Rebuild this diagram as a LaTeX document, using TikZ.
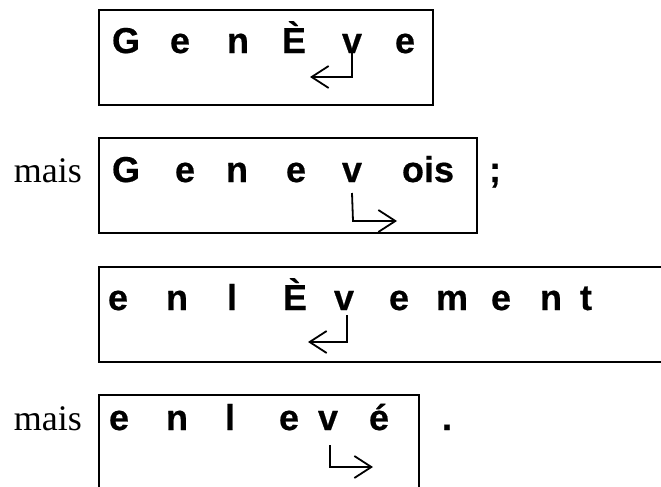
\documentclass[tikz,border=0pt]{standalone}
\usepackage{fontspec}
\setmainfont{Liberation Serif}
\newfontfamily\arialfont[FakeBold=0.5]{Liberation Sans Bold}
\usetikzlibrary{arrows.meta}
\tikzset{
  box/.style={draw, line width=2.4pt},
  ltr/.style={anchor=base, inner sep=0pt, font=\arialfont\fontsize{36}{40}\selectfont},
  txt/.style={anchor=base east, inner sep=0pt, font=\fontsize{36}{40}\selectfont},
  elbow/.style={line width=1.8pt, -{Straight Barb[length=17pt,width=22pt,line width=1.8pt]}}
}
\begin{document}
\begin{tikzpicture}[x=1pt,y=-1pt]
\useasboundingbox (0,0) rectangle (661,487);
\clip (0,0) rectangle (661,487);
% box 1
\draw[box] (99,10) rectangle (433,105);
\node[ltr] (a1) at (126,53) {G};
\node[ltr] (a2) at (180,53) {e};
\node[ltr] (a3) at (238,53) {n};
\node[ltr] (a4) at (294,53) {È};
\node[ltr] (a5) at (352,53) {v};
\node[ltr] (a6) at (405,53) {e};
\coordinate (c1) at (352,77);
\coordinate (d1) at (310,77);
\draw[elbow] (a5.base) -- (c1) -- (d1);
% box 2
\node[txt] (m1) at (82,182) {mais};
\draw[box] (99,138) rectangle (477,233);
\node[ltr] (b1) at (126,182) {G};
\node[ltr] (b2) at (185,182) {e};
\node[ltr] (b3) at (237,182) {n};
\node[ltr] (b4) at (296,182) {e};
\node[ltr] (b5) at (352,182) {v};
\node[ltr] (b6) at (428,182) {ois};
\node[ltr] (p1) at (495,182) {;};
\coordinate (c2) at (353,221);
\coordinate (d2) at (397,221);
\draw[elbow] ([yshift=-11pt]b5.base) -- (c2) -- (d2);
% box 3
\draw[box] (99,267) rectangle (700,362);
\node[ltr] (e1) at (118,310) {e};
\node[ltr] (e2) at (177,310) {n};
\node[ltr] (e3) at (232,310) {l};
\node[ltr] (e4) at (295,310) {È};
\node[ltr] (e5) at (344,310) {v};
\node[ltr] (e6) at (399,310) {e};
\node[ltr] (e7) at (452,310) {m};
\node[ltr] (e8) at (501,310) {e};
\node[ltr] (e9) at (551,310) {n};
\node[ltr] (e10) at (586,310) {t};
\coordinate (c3) at (347,342);
\coordinate (d3) at (308,342);
\draw[elbow] ([xshift=3pt,yshift=-5pt]e5.base) -- (c3) -- (d3);
% box 4
\node[txt] (m2) at (82,430) {mais};
\draw[box] (99,395) rectangle (419,520);
\node[ltr] (f1) at (119,430) {e};
\node[ltr] (f2) at (177,430) {n};
\node[ltr] (f3) at (230,430) {l};
\node[ltr] (f4) at (289,430) {e};
\node[ltr] (f5) at (328,430) {v};
\node[ltr] (f6) at (379,430) {é};
\node[ltr] (p2) at (447,430) {.};
\coordinate (c4) at (330,467);
\coordinate (d4) at (373,467);
\draw[elbow] ([xshift=2pt,yshift=-15pt]f5.base) -- (c4) -- (d4);
\end{tikzpicture}
\end{document}
